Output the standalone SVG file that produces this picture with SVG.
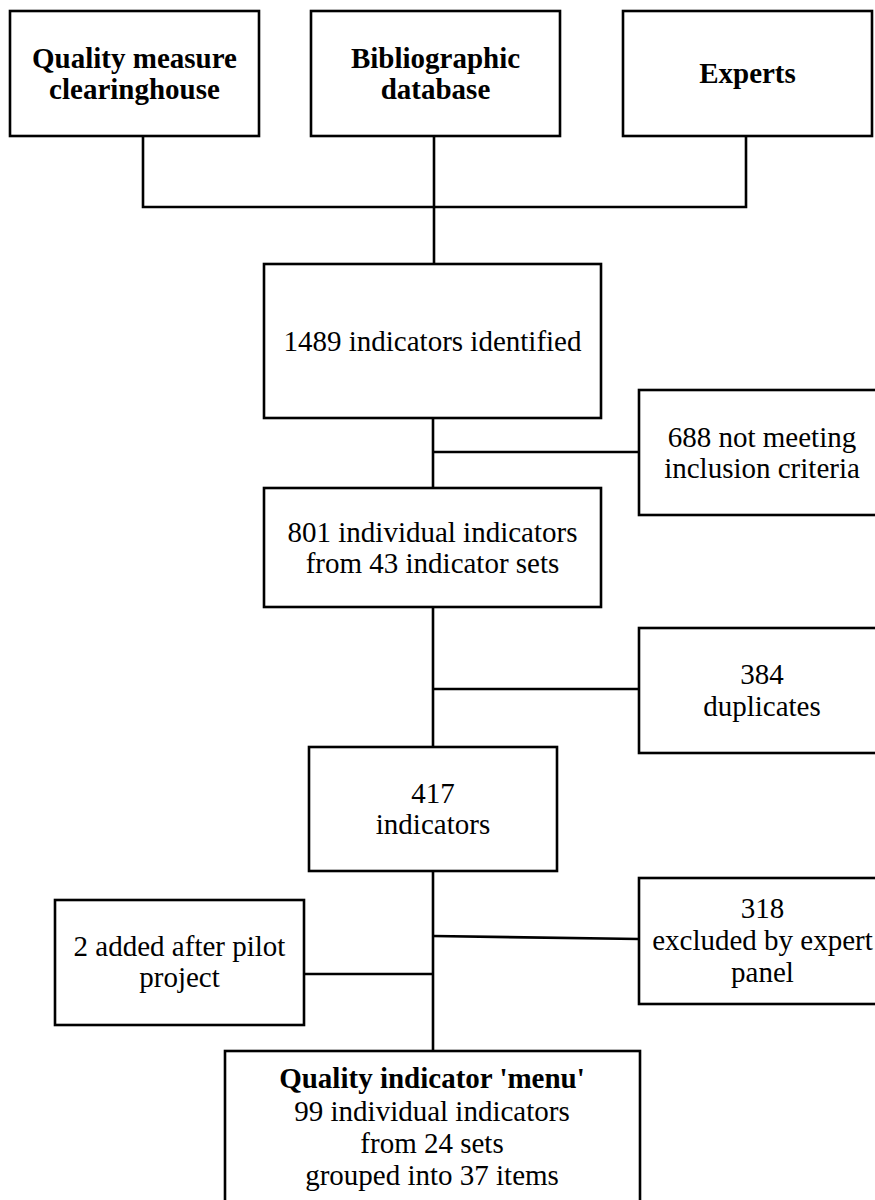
<svg xmlns="http://www.w3.org/2000/svg" width="875" height="1200" viewBox="0 0 875 1200">
<style>
.box{fill:#fff;stroke:#000;stroke-width:2.6}
.ln{fill:none;stroke:#000;stroke-width:2.6}
text{font-family:"Liberation Serif","Times New Roman",serif;font-size:29px;fill:#000;text-anchor:middle}
.b{font-weight:bold}
</style>
<rect width="875" height="1200" fill="#fff"/>
<g id="connectors">
<polyline class="ln" points="143,136 143,207 746,207 746,136"/>
<line class="ln" x1="434" y1="136" x2="434" y2="264"/>
<line class="ln" x1="433" y1="418" x2="433" y2="488"/>
<line class="ln" x1="433" y1="452" x2="639" y2="452"/>
<line class="ln" x1="433" y1="607" x2="433" y2="747"/>
<line class="ln" x1="433" y1="689" x2="639" y2="689"/>
<line class="ln" x1="433" y1="871" x2="433" y2="1051"/>
<line class="ln" x1="433" y1="936" x2="639" y2="939"/>
<line class="ln" x1="304" y1="974" x2="433" y2="974"/>
</g>
<g id="n1"><rect class="box" x="10" y="11" width="249" height="125"/>
<text class="b" x="134.5" y="68">Quality measure</text><text class="b" x="134.5" y="99">clearinghouse</text></g>
<g id="n2"><rect class="box" x="311" y="11" width="249" height="125"/>
<text class="b" x="435.5" y="68">Bibliographic</text><text class="b" x="435.5" y="99">database</text></g>
<g id="n3"><rect class="box" x="623" y="11" width="249" height="125"/>
<text class="b" x="747.5" y="83">Experts</text></g>
<g id="n4"><rect class="box" x="264" y="264" width="337" height="154"/>
<text x="432.5" y="351">1489 indicators identified</text></g>
<g id="n5"><rect class="box" x="639" y="390" width="247" height="125"/>
<text x="762" y="447">688 not meeting</text><text x="762" y="478">inclusion criteria</text></g>
<g id="n6"><rect class="box" x="264" y="488" width="337" height="119"/>
<text x="432.5" y="542">801 individual indicators</text><text x="432.5" y="573">from 43 indicator sets</text></g>
<g id="n7"><rect class="box" x="639" y="628" width="247" height="125"/>
<text x="762" y="684">384</text><text x="762" y="716">duplicates</text></g>
<g id="n8"><rect class="box" x="309" y="747" width="248" height="124"/>
<text x="433" y="803">417</text><text x="433" y="834">indicators</text></g>
<g id="n9"><rect class="box" x="639" y="878" width="247" height="126"/>
<text x="762.5" y="918">318</text><text x="762.5" y="950">excluded by expert</text><text x="762.5" y="982">panel</text></g>
<g id="n10"><rect class="box" x="55" y="900" width="249" height="125"/>
<text x="179.5" y="956">2 added after pilot</text><text x="179.5" y="987">project</text></g>
<g id="n11"><rect class="box" x="225" y="1051" width="415" height="170"/>
<text class="b" x="432" y="1088">Quality indicator 'menu'</text>
<text x="432" y="1121">99 individual indicators</text>
<text x="432" y="1153">from 24 sets</text>
<text x="432" y="1185">grouped into 37 items</text></g>
</svg>
